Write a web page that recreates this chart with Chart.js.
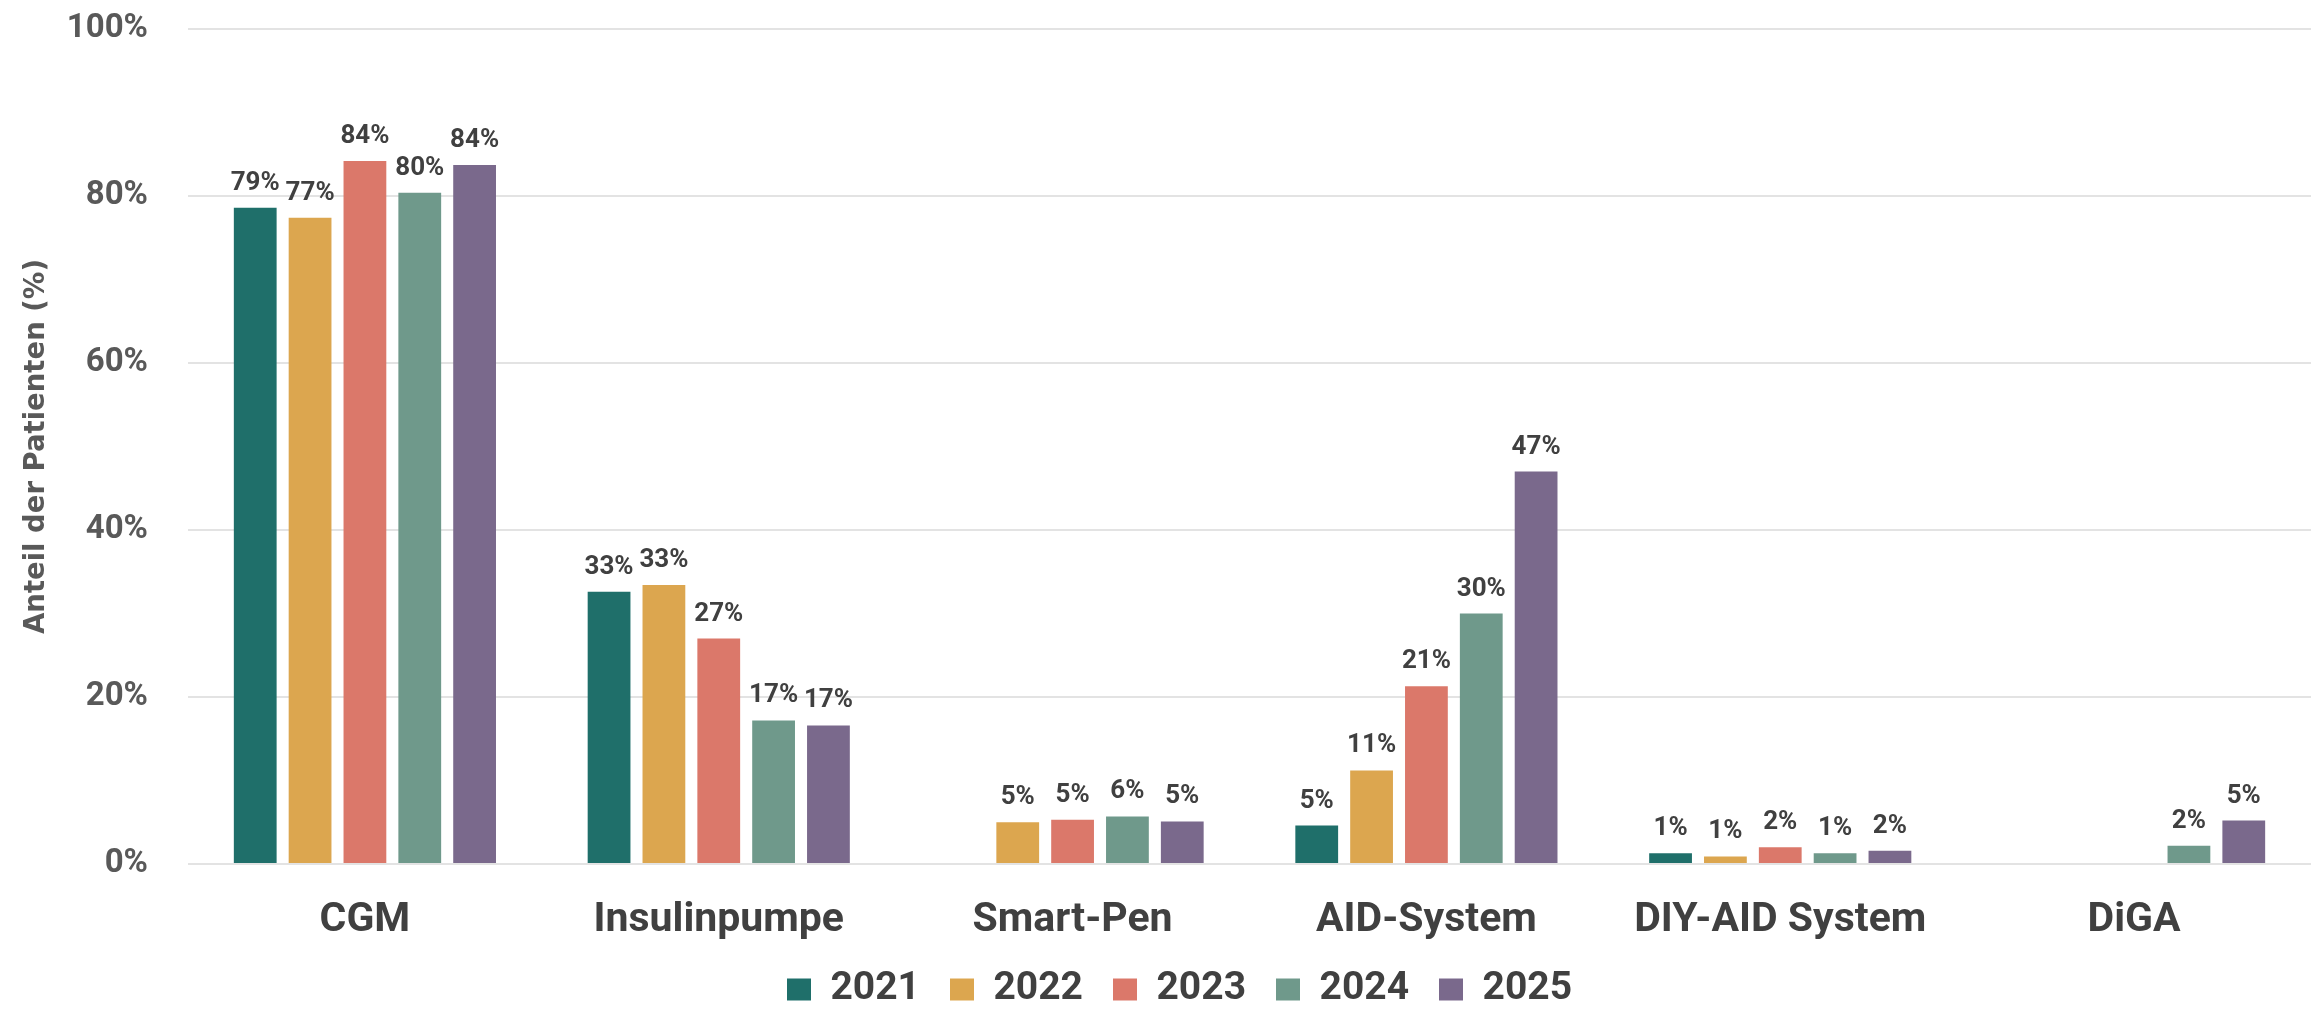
<!DOCTYPE html>
<html lang="de">
<head>
    <meta charset="UTF-8">
    <title>Anteil der Patienten</title>
    <script src="https://cdn.jsdelivr.net/npm/chart.js"></script>
    <style>
        html, body { margin: 0; padding: 0; background: #ffffff; }
        #wrap { width: 2323px; height: 1009px; }
    </style>
</head>
<body>
    <div id="wrap"><canvas id="barChart"></canvas></div>

    <script>
        // categories and series (values in %)
        const categories = ['CGM', 'Insulinpumpe', 'Smart-Pen', 'AID-System', 'DIY-AID System', 'DiGA'];
        const years = ['2021', '2022', '2023', '2024', '2025'];
        const values2021 = [78.6, 32.6, null, 4.6, 1.3, null];
        const values2022 = [77.4, 33.4, 5.0, 11.2, 0.9, null];
        const values2023 = [84.2, 27.0, 5.3, 21.3, 2.0, null];
        const values2024 = [80.4, 17.2, 5.7, 30.0, 1.3, 2.2];
        const values2025 = [83.7, 16.6, 5.1, 47.0, 1.6, 5.2];
        const yTicks = [0, 20, 40, 60, 80, 100];

        const colors = ['#1f6f6a', '#dca64f', '#db786a', '#6f998b', '#7a698c'];
        const series = [values2021, values2022, values2023, values2024, values2025];

        const fontFamily = 'Roboto, "Liberation Sans", sans-serif';
        const textColor = '#404040';

        // value labels above each bar
        const valueLabels = {
            id: 'valueLabels',
            afterDatasetsDraw(chart) {
                const ctx = chart.ctx;
                ctx.save();
                ctx.font = 'bold 26px ' + fontFamily;
                ctx.fillStyle = textColor;
                ctx.textAlign = 'center';
                ctx.textBaseline = 'alphabetic';
                chart.data.datasets.forEach((ds, i) => {
                    const meta = chart.getDatasetMeta(i);
                    meta.data.forEach((bar, j) => {
                        const v = ds.data[j];
                        if (v === null || v === undefined) return;
                        ctx.fillText(Math.round(v) + '%', bar.x, bar.y - 18);
                    });
                });
                ctx.restore();
            }
        };

        // nudge the legend a bit to the right, as in the original
        const legendShift = {
            id: 'legendShift',
            afterLayout(chart) {
                if (chart.legend) {
                    chart.legend.left += 24;
                    chart.legend.right += 24;
                }
            }
        };

        const ctx = document.getElementById('barChart').getContext('2d');
        new Chart(ctx, {
            type: 'bar',
            data: {
                labels: categories,
                datasets: years.map((y, i) => ({
                    label: y,
                    data: series[i],
                    backgroundColor: colors[i],
                    borderWidth: 0,
                    barPercentage: 0.78,
                    categoryPercentage: 0.775
                }))
            },
            options: {
                responsive: true,
                maintainAspectRatio: false,
                animation: false,
                layout: { padding: { left: 0, right: 12, top: 29, bottom: -10 } },
                scales: {
                    x: {
                        grid: { display: false },
                        border: { display: false },
                        afterFit: axis => { axis.height = 76; },
                        ticks: {
                            color: textColor,
                            font: { family: fontFamily, size: 41, weight: 'bold' },
                            padding: 24
                        }
                    },
                    y: {
                        min: 0,
                        max: 100,
                        afterBuildTicks: axis => {
                            axis.ticks = yTicks.map(v => ({ value: v }));
                        },
                        afterFit: axis => { axis.width = 188; },
                        grid: {
                            color: '#e3e3e3',
                            lineWidth: 2,
                            drawTicks: true,
                            tickLength: 40,
                            tickColor: 'rgba(0,0,0,0)'
                        },
                        border: { display: false },
                        ticks: {
                            color: '#595959',
                            font: { family: fontFamily, size: 33, weight: 'bold' },
                            padding: 0,
                            callback: v => v + '%'
                        },
                        title: {
                            display: true,
                            text: 'Anteil der Patienten (%)',
                            color: '#595959',
                            font: { family: '"DejaVu Sans", sans-serif', size: 27.5, weight: 'bold' },
                            padding: { top: 20, bottom: 0 }
                        }
                    }
                },
                plugins: {
                    legend: {
                        display: true,
                        position: 'bottom',
                        labels: {
                            color: textColor,
                            font: { family: fontFamily, size: 39, weight: 'bold' },
                            boxWidth: 24,
                            boxHeight: 22,
                            padding: 30
                        }
                    },
                    tooltip: { enabled: false }
                }
            },
            plugins: [valueLabels, legendShift]
        });
    </script>
</body>
</html>
